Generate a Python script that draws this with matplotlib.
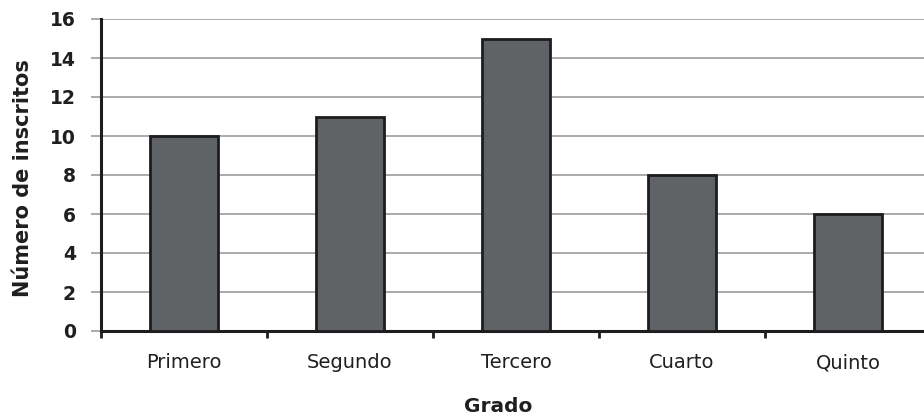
import matplotlib.pyplot as plt
from matplotlib.ticker import FixedLocator

# enrolment by grade
grados = ['Primero', 'Segundo', 'Tercero', 'Cuarto', 'Quinto']
inscritos = [10, 11, 15, 8, 6]
y_ticks = [0, 2, 4, 6, 8, 10, 12, 14, 16]

BAR_FILL = '#606366'
DARK = '#1d1d20'
GRID = '#9c9c9c'

plt.rcParams['font.family'] = 'DejaVu Sans'

fig = plt.figure(figsize=(9.24, 4.2), dpi=100)
# the plot area runs slightly past the right edge of the figure
ax = fig.add_axes([101 / 924, 89 / 420, 830 / 924, 312 / 420])

x = list(range(len(grados)))
ax.bar(x, inscritos, width=0.41, color=BAR_FILL, edgecolor=DARK,
       linewidth=2.0, zorder=3)

ax.set_xlim(-0.5, len(grados) - 0.5)
ax.set_ylim(0, 16)
ax.set_yticks(y_ticks)
ax.yaxis.grid(True, color=GRID, linewidth=1.2, zorder=0)

for side in ('top', 'right'):
    ax.spines[side].set_visible(False)
for side in ('left', 'bottom'):
    ax.spines[side].set_color(DARK)
    ax.spines[side].set_linewidth(2.2)
ax.spines['left'].set_zorder(4)

ax.set_xticks(x)
ax.set_xticklabels(grados, fontsize=14, color='#1f1f1f')
ax.xaxis.set_minor_locator(FixedLocator([i + 0.5 for i in range(-1, len(grados))]))
ax.tick_params(axis='x', which='major', length=0, pad=16)
ax.tick_params(axis='x', which='minor', length=5, width=2, color=DARK,
               direction='out')
ax.tick_params(axis='y', which='major', length=7, width=1.2, color=GRID,
               pad=11, labelsize=13.5)
for lab in ax.get_yticklabels():
    lab.set_fontweight('bold')
    lab.set_color('#1f1f1f')

ax.set_xlabel('Grado', fontsize=14.5, fontweight='bold', color='#1f1f1f')
ax.xaxis.set_label_coords((498 - 101) / 830, -(407 - 331) / 312)
ax.xaxis.label.set_va('center')
ax.set_ylabel('Número de inscritos', fontsize=15, fontweight='bold',
              color='#1f1f1f')
ax.yaxis.set_label_coords(-(101 - 33) / 830, 0.49)

fig.savefig('out.png', dpi=100)
